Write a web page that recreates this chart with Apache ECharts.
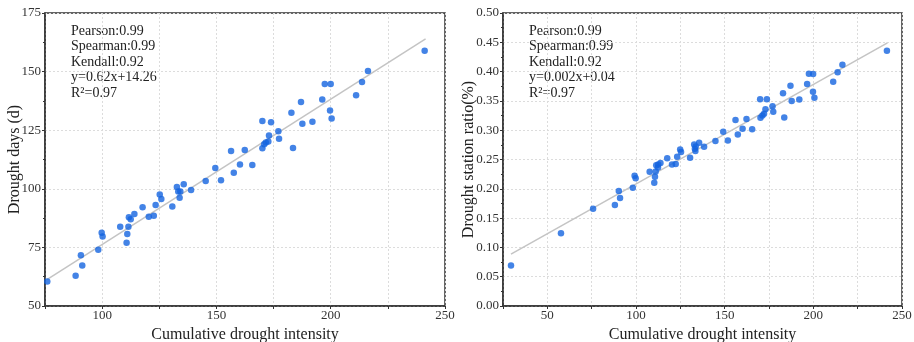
<!DOCTYPE html>
<html>
<head>
<meta charset="utf-8">
<script src="https://cdn.jsdelivr.net/npm/echarts@6/dist/echarts.min.js"></script>
<style>html,body{margin:0;padding:0;background:#fff}#c{width:914px;height:342px}</style>
</head>
<body>
<div id="c"></div>
<script>
// Left panel: cumulative drought intensity vs drought days
const daysX = [76.0, 88.4, 90.7, 91.3, 98.3, 99.8, 100.2, 107.9, 110.7, 111.0, 111.5, 111.7, 112.5, 114.1, 117.7, 120.4, 122.6, 123.4, 125.2, 125.9, 130.7, 132.7, 133.3, 134.2, 133.9, 135.7, 138.9, 145.3, 149.5, 152.0, 156.4, 157.6, 160.3, 162.4, 165.7, 170.1, 170.9, 171.6, 172.7, 173.0, 170.1, 173.9, 177.1, 177.4, 182.8, 183.5, 187.0, 187.6, 192.0, 196.3, 197.4, 200.0, 199.7, 200.4, 211.1, 213.7, 216.3, 241.1];
const daysY = [60.5, 62.9, 71.6, 67.3, 74.0, 81.3, 79.7, 83.8, 77.0, 80.7, 83.8, 87.9, 87.0, 89.2, 92.1, 88.1, 88.5, 93.1, 97.6, 95.6, 92.5, 100.8, 98.8, 98.9, 96.2, 101.9, 99.5, 103.3, 108.9, 103.6, 116.1, 106.9, 110.4, 116.5, 110.2, 117.3, 119.0, 119.7, 120.2, 122.7, 128.9, 128.4, 124.5, 121.3, 132.4, 117.4, 137.0, 127.7, 128.6, 138.1, 144.7, 144.7, 133.4, 130.0, 139.9, 145.6, 150.3, 158.9];
const daysFitX = [76.0, 241.5];
const daysFitY = [61.4, 164.0];
const daysNotes = ['Pearson:0.99', 'Spearman:0.99', 'Kendall:0.92', 'y=0.62x+14.26', 'R\u00B2=0.97'];

// Right panel: cumulative drought intensity vs drought station ratio
const ratioX = [29.5, 57.7, 75.8, 88.1, 90.3, 91.0, 98.2, 99.2, 99.8, 107.7, 110.3, 110.7, 111.1, 111.4, 112.4, 112.5, 113.8, 117.6, 120.3, 122.4, 123.2, 124.9, 125.4, 130.5, 132.8, 133.2, 133.5, 133.7, 135.6, 138.4, 144.8, 149.2, 151.8, 156.1, 157.4, 160.1, 162.3, 165.5, 170.0, 170.2, 171.3, 172.2, 173.0, 173.8, 177.0, 177.4, 182.9, 183.6, 187.1, 187.8, 192.1, 196.5, 197.5, 199.9, 199.8, 200.6, 211.2, 213.7, 216.4, 241.5];
const ratioY = [0.069, 0.124, 0.166, 0.1725, 0.1964, 0.1845, 0.2018, 0.2222, 0.218, 0.229, 0.2105, 0.2205, 0.2295, 0.2403, 0.2365, 0.2414, 0.2442, 0.252, 0.2414, 0.2423, 0.2548, 0.2672, 0.2628, 0.2529, 0.2757, 0.2683, 0.2643, 0.2723, 0.2785, 0.2717, 0.2814, 0.2974, 0.2825, 0.3174, 0.2928, 0.3025, 0.3191, 0.3016, 0.3527, 0.3214, 0.325, 0.328, 0.3358, 0.3527, 0.341, 0.3315, 0.3632, 0.3215, 0.3757, 0.350, 0.3526, 0.379, 0.3965, 0.396, 0.3656, 0.3552, 0.3825, 0.3988, 0.4115, 0.4355];
const ratioFitX = [29.5, 241.8];
const ratioFitY = [0.0886, 0.449];
const ratioNotes = ['Pearson:0.99', 'Spearman:0.99', 'Kendall:0.92', 'y=0.002x+0.04', 'R\u00B2=0.97'];

const xTitle = 'Cumulative drought intensity';
const yTitles = ['Drought days (d)', 'Drought station ratio(%)'];

const FONT = '"Liberation Serif", "DejaVu Serif", serif';
const DOT = '#1464e0';
const zip = (a, b) => a.map((v, i) => [v, b[i]]);

function xAxis(gridIndex, min) {
  return {
    type: 'value', gridIndex, min, max: 250, interval: 25,
    name: xTitle, nameLocation: 'middle', nameGap: 21, nameMoveOverlap: false,
    nameTextStyle: { fontFamily: FONT, fontSize: 16, color: '#222' },
    axisLine: { show: true, onZero: false, lineStyle: { color: '#333', width: 1.5 } },
    axisTick: { show: true, inside: false, length: 3, lineStyle: { color: '#333' } },
    axisLabel: {
      fontFamily: FONT, fontSize: 13, color: '#333', margin: 3,
      formatter: v => (Math.round(v) % 50 === 0 ? String(Math.round(v)) : '')
    },
    splitLine: { show: true, lineStyle: { color: '#dcdcdc', type: [2, 2], width: 1 } }
  };
}
function yAxis(gridIndex, min, max, interval, fmt, gap, title) {
  return {
    type: 'value', gridIndex, min, max, interval,
    name: title, nameLocation: 'middle', nameGap: gap, nameRotate: 90, nameMoveOverlap: false,
    nameTextStyle: { fontFamily: FONT, fontSize: 16, color: '#222' },
    axisLine: { show: true, onZero: false, lineStyle: { color: '#333', width: 1.5 } },
    axisTick: { show: true, inside: false, length: 3, lineStyle: { color: '#333' } },
    minorTick: { show: true, splitNumber: 2, length: 2, lineStyle: { color: '#333' } },
    axisLabel: { fontFamily: FONT, fontSize: 13, color: '#333', margin: 4, formatter: fmt },
    splitLine: { show: true, lineStyle: { color: '#dcdcdc', type: [2, 2], width: 1 } }
  };
}
function notes(lines, x) {
  return lines.map((t, i) => ({
    type: 'text', left: x, top: 24 + i * 15.6,
    style: { text: t, fontFamily: FONT, fontSize: 14, fill: '#222' }
  }));
}

const chart = echarts.init(document.getElementById('c'));
chart.setOption({
  animation: false,
  backgroundColor: '#fff',
  grid: [
    { left: 45, right: 469, top: 13, bottom: 36, show: true, borderColor: '#333', borderWidth: 1.5, outerBoundsMode: 'none', containLabel: false },
    { left: 503, right: 12, top: 13, bottom: 36, show: true, borderColor: '#333', borderWidth: 1.5, outerBoundsMode: 'none', containLabel: false }
  ],
  xAxis: [xAxis(0, 75), xAxis(1, 25)],
  yAxis: [
    yAxis(0, 50, 175, 25, v => String(Math.round(v)), 22, yTitles[0]),
    yAxis(1, 0, 0.5, 0.05, v => v.toFixed(2), 26, yTitles[1])
  ],
  graphic: [...notes(daysNotes, 71), ...notes(ratioNotes, 529)],
  series: [
    { type: 'line', xAxisIndex: 0, yAxisIndex: 0, data: zip(daysFitX, daysFitY), symbol: 'none',
      lineStyle: { color: '#c4c4c4', width: 1.5 }, z: 1 },
    { type: 'scatter', xAxisIndex: 0, yAxisIndex: 0, data: zip(daysX, daysY), symbolSize: 6.5,
      itemStyle: { color: DOT }, z: 2 },
    { type: 'line', xAxisIndex: 1, yAxisIndex: 1, data: zip(ratioFitX, ratioFitY), symbol: 'none',
      lineStyle: { color: '#c4c4c4', width: 1.5 }, z: 1 },
    { type: 'scatter', xAxisIndex: 1, yAxisIndex: 1, data: zip(ratioX, ratioY), symbolSize: 6.5,
      itemStyle: { color: DOT }, z: 2 }
  ]
});
</script>
</body>
</html>
